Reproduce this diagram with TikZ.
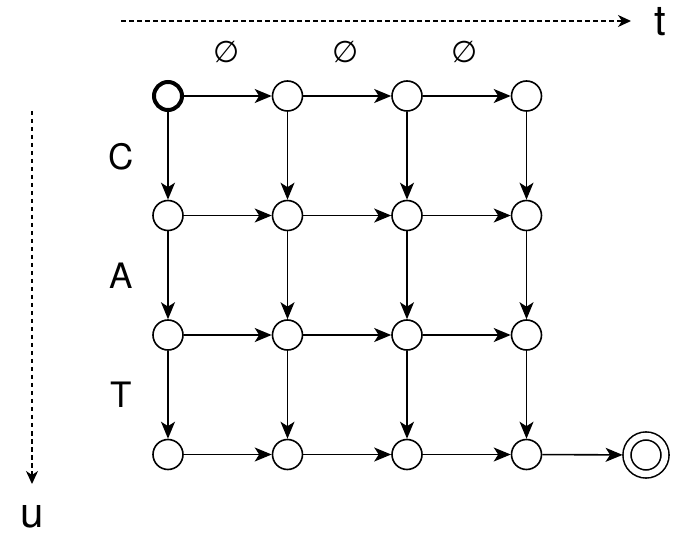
\documentclass[tikz,border=0pt]{standalone}
\usepackage{fontspec}
\setmainfont{TeX Gyre Heros}
\newfontfamily\symfont{DejaVu Sans}
\usetikzlibrary{arrows.meta}

\begin{document}
\begin{tikzpicture}[
    x=1pt,y=-1pt,
    state/.style={circle,draw,line width=1.6pt,minimum size=30pt,inner sep=0pt},
    start/.style={state,line width=4pt,minimum size=28pt},
    accept/.style={state,minimum size=38pt,double,double distance=6.4pt,outer sep=4.4pt},
    arr/.style={-{Stealth[length=17pt,width=14pt,inset=4.5pt]},line width=1.6pt},
    axis/.style={-{Stealth[length=13pt,width=12pt,inset=4pt]},line width=1.5pt,dash pattern=on 4.5pt off 3.5pt},
    lab/.style={font=\fontsize{35}{38}\selectfont},
    axlab/.style={font=\fontsize{42}{44}\selectfont},
    nul/.style={font=\symfont\fontsize{30}{32}\selectfont}
  ]
  \useasboundingbox (0,0) rectangle (694,537);

  % lattice
  \node[start] (n11) at (168,96) {};
  \foreach \i in {1,...,4}
    \foreach \j in {1,...,4}
      {\ifnum\i\j=11 \else
        \node[state] (n\i\j) at ({168+119.5*(\i-1)},{96+119.5*(\j-1)}) {};
      \fi}
  \node[accept] (end) at (646,455) {};

  \foreach \i [count=\k from 2] in {1,2,3}
    \foreach \j in {1,...,4}
      {\draw[arr] (n\i\j) -- (n\k\j);
       \draw[arr] (n\j\i) -- (n\j\k);}
  \draw[arr] (n44) -- (end);

  % labels
  \node[nul] (e1) at (227,52) {∅};
  \node[nul] (e2) at (346,52) {∅};
  \node[nul] (e3) at (465,52) {∅};
  \node[lab] (c) at (121,157) {C};
  \node[lab] (a) at (121,276) {A};
  \node[lab] (tt) at (121,395) {T};

  % axes
  \coordinate (t0) at (121,21);
  \coordinate (t1) at (631,21);
  \draw[axis] (t0) -- (t1);
  \node[axlab] (t) at (660,22) {t};
  \coordinate (u0) at (32,111);
  \coordinate (u1) at (32,484);
  \draw[axis] (u0) -- (u1);
  \node[axlab] (u) at (32,517) {u};
\end{tikzpicture}
\end{document}
